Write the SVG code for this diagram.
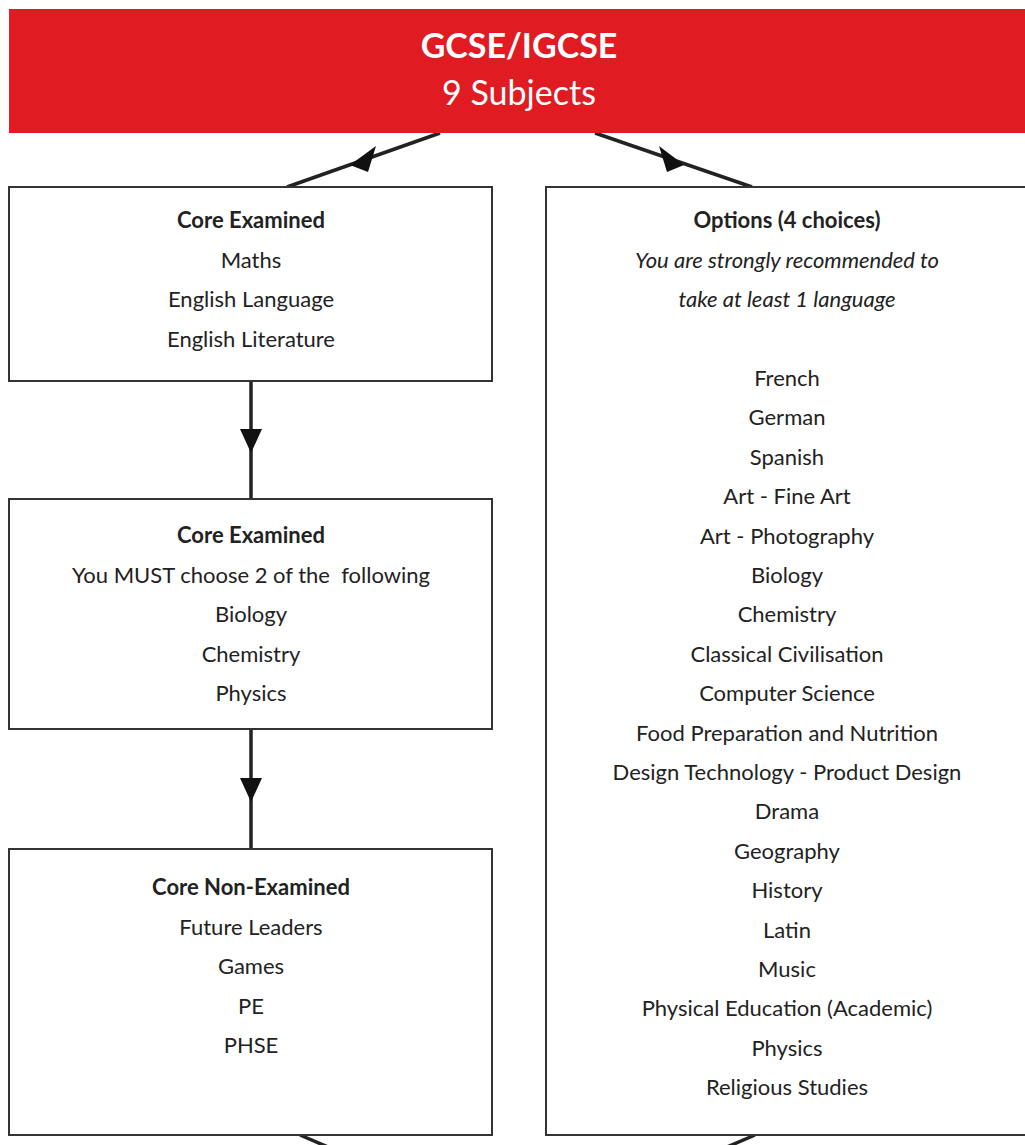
<svg xmlns="http://www.w3.org/2000/svg" width="1025" height="1145" viewBox="0 0 1025 1145">
<defs>
<style>
.box{fill:#fff;stroke:#333;stroke-width:2}
.t{font-family:Lato,"Liberation Sans",sans-serif;font-size:22px;fill:#222;text-anchor:middle;white-space:pre}
.b{font-weight:bold}
.i{font-style:italic}
.c{stroke:#222;stroke-width:3.5;fill:none}
.h{font-family:Lato,"Liberation Sans",sans-serif;fill:#fff;text-anchor:middle;font-size:34px}
</style>
</defs>
<rect width="1025" height="1145" fill="#fff"/>
<g id="connectors">
<path class="c" d="M440,133 L287,187"/>
<path d="M350,165 L376,146 L368,172 z" fill="#111"/>
<path class="c" d="M595,133 L752,187"/>
<path d="M684,165 L659,146 L667,172 z" fill="#111"/>
<path class="c" d="M251,381 L251,499"/>
<path d="M240,429 L262,429 L251,453 z" fill="#111"/>
<path class="c" d="M251,729 L251,849"/>
<path d="M240,778 L262,778 L251,802 z" fill="#111"/>
<path class="c" d="M300,1135 L335,1150"/>
<path class="c" d="M755,1135 L720,1150"/>
</g>
<g id="header">
<rect x="9" y="9" width="1020" height="124" fill="#e01b22"/>
<text class="h" x="519" y="58" font-weight="bold">GCSE/IGCSE</text>
<text class="h" x="519" y="105">9 Subjects</text>
</g>
<g id="core1">
<rect class="box" x="9" y="187" width="483" height="194"/>
<text class="t b" x="251" y="228">Core Examined</text>
<text class="t" x="251" y="268">Maths</text>
<text class="t" x="251" y="307">English Language</text>
<text class="t" x="251" y="347">English Literature</text>
</g>
<g id="core2">
<rect class="box" x="9" y="499" width="483" height="230"/>
<text class="t b" x="251" y="543">Core Examined</text>
<text class="t" x="251" y="583" xml:space="preserve">You MUST choose 2 of the  following</text>
<text class="t" x="251" y="622">Biology</text>
<text class="t" x="251" y="662">Chemistry</text>
<text class="t" x="251" y="701">Physics</text>
</g>
<g id="core3">
<rect class="box" x="9" y="849" width="483" height="286"/>
<text class="t b" x="251" y="895">Core Non-Examined</text>
<text class="t" x="251" y="935">Future Leaders</text>
<text class="t" x="251" y="974">Games</text>
<text class="t" x="251" y="1014">PE</text>
<text class="t" x="251" y="1053">PHSE</text>
</g>
<g id="options">
<rect class="box" x="546" y="187" width="490" height="948"/>
<text class="t b" x="787" y="228">Options (4 choices)</text>
<text class="t i" x="787" y="268">You are strongly recommended to</text>
<text class="t i" x="787" y="307">take at least 1 language</text>
<text class="t" x="787" y="386">French</text>
<text class="t" x="787" y="425">German</text>
<text class="t" x="787" y="465">Spanish</text>
<text class="t" x="787" y="504">Art - Fine Art</text>
<text class="t" x="787" y="544">Art - Photography</text>
<text class="t" x="787" y="583">Biology</text>
<text class="t" x="787" y="622">Chemistry</text>
<text class="t" x="787" y="662">Classical Civilisation</text>
<text class="t" x="787" y="701">Computer Science</text>
<text class="t" x="787" y="741">Food Preparation and Nutrition</text>
<text class="t" x="787" y="780">Design Technology - Product Design</text>
<text class="t" x="787" y="819">Drama</text>
<text class="t" x="787" y="859">Geography</text>
<text class="t" x="787" y="898">History</text>
<text class="t" x="787" y="938">Latin</text>
<text class="t" x="787" y="977">Music</text>
<text class="t" x="787" y="1016">Physical Education (Academic)</text>
<text class="t" x="787" y="1056">Physics</text>
<text class="t" x="787" y="1095">Religious Studies</text>
</g>
</svg>
